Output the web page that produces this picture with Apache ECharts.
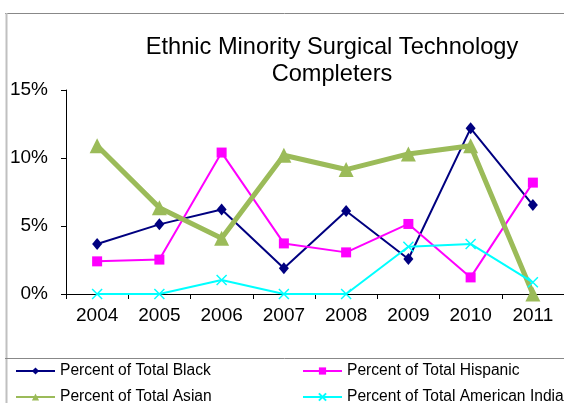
<!DOCTYPE html>
<html>
<head>
<meta charset="utf-8">
<script src="https://cdn.jsdelivr.net/npm/echarts@6/dist/echarts.min.js"></script>
<style>
html,body{margin:0;padding:0;background:#fff;}
#chart{width:564px;height:403px;}
</style>
</head>
<body>
<div id="chart"></div>
<script>
var categories = ['2004','2005','2006','2007','2008','2009','2010','2011'];
var black = [3.68, 5.12, 6.22, 1.89, 6.10, 2.57, 12.18, 6.54];
var hispanic = [2.40, 2.53, 10.40, 3.72, 3.06, 5.15, 1.22, 8.19];
var asian = [10.90, 6.35, 4.10, 10.20, 9.15, 10.30, 10.90, 0];
var amIndian = [0, 0, 1.03, 0, 0, 3.48, 3.68, 0.86];
var seriesNames = ['Percent of Total Black','Percent of Total Hispanic','Percent of Total Asian','Percent of Total American Indian'];
var yTicks = {min: 0, max: 15, interval: 5};
var titleText = 'Ethnic Minority Surgical Technology\nCompleters';

var FONT = 'Liberation Sans, Arial, sans-serif';
var chart = echarts.init(document.getElementById('chart'), null, {renderer: 'canvas'});
var xPath = 'path://M0,0L10,10M10,0L0,10';

chart.setOption({
  animation: false,
  backgroundColor: '#ffffff',
  title: {
    text: titleText,
    left: 332, top: 34, padding: 0,
    textAlign: 'center',
    textStyle: {fontFamily: FONT, fontSize: 23.6, fontWeight: 'normal', color: '#000', lineHeight: 27}
  },
  grid: {left: 66, top: 90, width: 502, height: 204, containLabel: false},
  xAxis: {
    type: 'category',
    data: categories,
    boundaryGap: true,
    axisLine: {lineStyle: {color: '#000', width: 1}},
    axisTick: {show: true, length: 5, lineStyle: {color: '#000'}},
    axisLabel: {fontFamily: FONT, fontSize: 19, color: '#000', margin: 12},
    splitLine: {show: false}
  },
  yAxis: {
    type: 'value',
    min: yTicks.min, max: yTicks.max, interval: yTicks.interval,
    axisLine: {show: true, lineStyle: {color: '#000', width: 1}},
    axisTick: {show: true, length: 5, lineStyle: {color: '#000'}},
    axisLabel: {fontFamily: FONT, fontSize: 19, color: '#000', margin: 18, formatter: '{value}%'},
    splitLine: {show: false}
  },
  legend: {
    left: 15, top: 358, width: 580, padding: 0,
    itemWidth: 39, itemHeight: 9, itemGap: 0,
    orient: 'horizontal',
    data: seriesNames,
    textStyle: {fontFamily: FONT, fontSize: 15.6, color: '#000', width: 242, lineHeight: 26, padding: [0,0,0,0]}
  },
  graphic: [
    {type: 'line', shape: {x1: 5, y1: 13.5, x2: 564, y2: 13.5}, style: {stroke: '#888', lineWidth: 1}, silent: true},
    {type: 'line', shape: {x1: 6.5, y1: 13, x2: 6.5, y2: 403}, style: {stroke: '#c0c0c0', lineWidth: 2}, silent: true},
    {type: 'line', shape: {x1: 5, y1: 358.5, x2: 564, y2: 358.5}, style: {stroke: '#888', lineWidth: 1}, silent: true}
  ],
  series: [
    {name: seriesNames[0], type: 'line', data: black, symbol: 'diamond', symbolSize: [10, 12],
     lineStyle: {color: '#000080', width: 2}, itemStyle: {color: '#000080'}},
    {name: seriesNames[1], type: 'line', data: hispanic, symbol: 'rect', symbolSize: 10,
     lineStyle: {color: '#FF00FF', width: 2}, itemStyle: {color: '#FF00FF'}},
    {name: seriesNames[2], type: 'line', data: asian, symbol: 'triangle', symbolSize: 15,
     lineStyle: {color: '#9BBB59', width: 5}, itemStyle: {color: '#9BBB59'}},
    {name: seriesNames[3], type: 'line', data: amIndian, symbol: xPath, symbolSize: 10,
     lineStyle: {color: '#00FFFF', width: 2}, itemStyle: {color: '#00FFFF', borderColor: '#00FFFF', borderWidth: 1.5}}
  ]
});
</script>
</body>
</html>
